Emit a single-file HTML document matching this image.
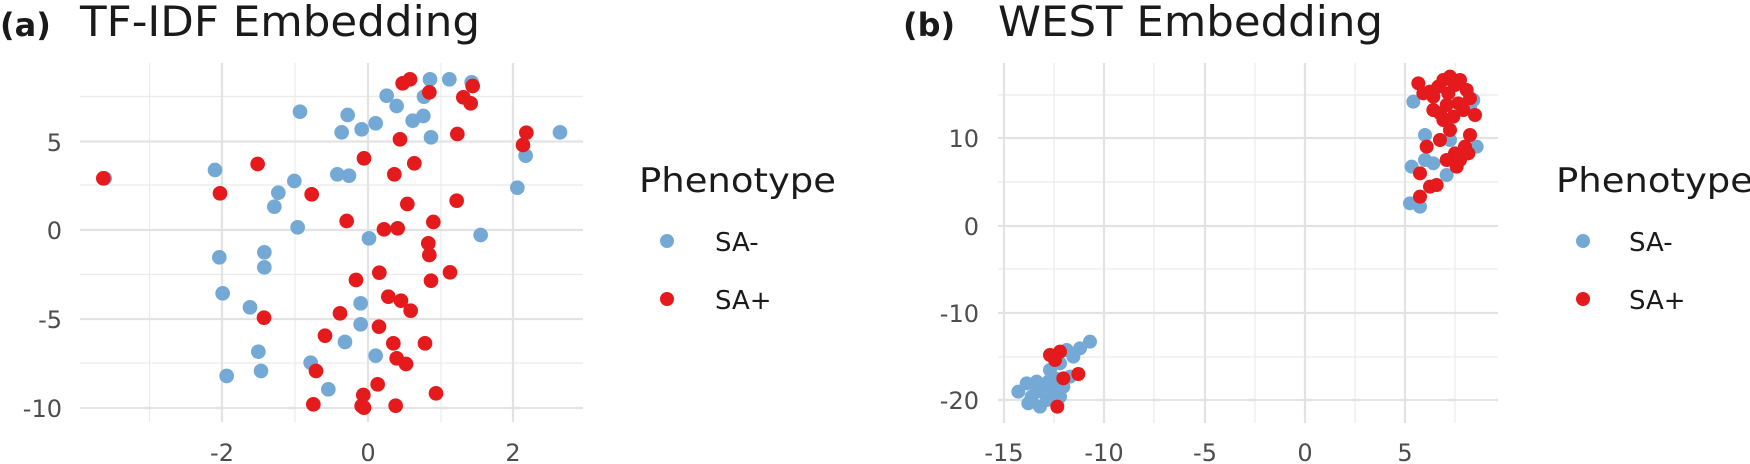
<!DOCTYPE html>
<html><head><meta charset="utf-8"><style>
html,body{margin:0;padding:0;background:#fff;}
svg{display:block;font-family:"DejaVu Sans","Liberation Sans",sans-serif;}
.tk{fill:#4d4d4d;font-size:24px;}
.b circle{fill:#74a9d6;}
.r circle{fill:#e41a1c;}
</style></head><body>
<svg width="1750" height="464" viewBox="0 0 1750 464" xmlns="http://www.w3.org/2000/svg">
<rect width="1750" height="464" fill="#fff"/>
<text x="0" y="36" font-size="32" font-weight="bold" fill="#1a1a1a">(a)</text>
<text x="80" y="36" font-size="42" fill="#1a1a1a" textLength="400" lengthAdjust="spacingAndGlyphs">TF-IDF Embedding</text>
<text x="903" y="36" font-size="32" font-weight="bold" fill="#1a1a1a">(b)</text>
<text x="998" y="36" font-size="42" fill="#1a1a1a" textLength="385" lengthAdjust="spacingAndGlyphs">WEST Embedding</text>

<g stroke="#ebebeb" stroke-width="1.2">
<line x1="80" x2="583" y1="96.5" y2="96.5"/><line x1="80" x2="583" y1="185" y2="185"/><line x1="80" x2="583" y1="274.5" y2="274.5"/><line x1="80" x2="583" y1="363" y2="363"/>
<line x1="149.5" x2="149.5" y1="63" y2="422"/><line x1="295" x2="295" y1="63" y2="422"/><line x1="441" x2="441" y1="63" y2="422"/>
</g>
<g stroke="#e3e3e3" stroke-width="2.2">
<line x1="80" x2="583" y1="141.5" y2="141.5"/><line x1="80" x2="583" y1="230" y2="230"/><line x1="80" x2="583" y1="319" y2="319"/><line x1="80" x2="583" y1="408" y2="408"/>
<line x1="222" x2="222" y1="63" y2="422"/><line x1="368" x2="368" y1="63" y2="422"/><line x1="513" x2="513" y1="63" y2="422"/>
</g>
<g class="tk" text-anchor="end">
<text x="62" y="151">5</text><text x="62" y="239">0</text><text x="62" y="328">-5</text><text x="62" y="417">-10</text>
</g>
<g class="tk" text-anchor="middle">
<text x="222" y="461">-2</text><text x="368" y="461">0</text><text x="513" y="461">2</text>
</g>
<g transform="translate(0,50) scale(0.33333)">
<g class="b">
<circle cx="314" cy="385" r="22"/><circle cx="645" cy="360" r="22"/><circle cx="658" cy="622" r="22"/><circle cx="668" cy="730" r="22"/><circle cx="680" cy="978" r="22"/><circle cx="750" cy="772" r="22"/><circle cx="775" cy="905" r="22"/><circle cx="783" cy="963" r="22"/><circle cx="793" cy="607" r="22"/><circle cx="793" cy="652" r="22"/><circle cx="823" cy="470" r="22"/><circle cx="835" cy="428" r="22"/><circle cx="883" cy="393" r="22"/><circle cx="893" cy="532" r="22"/><circle cx="900" cy="185" r="22"/><circle cx="932" cy="938" r="22"/><circle cx="985" cy="1018" r="22"/><circle cx="1012" cy="373" r="22"/><circle cx="1047" cy="377" r="22"/><circle cx="1025" cy="247" r="22"/><circle cx="1043" cy="195" r="22"/><circle cx="1035" cy="876" r="22"/><circle cx="1082" cy="760" r="22"/><circle cx="1082" cy="823" r="22"/><circle cx="1085" cy="238" r="22"/><circle cx="1107" cy="565" r="22"/><circle cx="1127" cy="220" r="22"/><circle cx="1127" cy="917" r="22"/><circle cx="1160" cy="137" r="22"/><circle cx="1190" cy="168" r="22"/><circle cx="1238" cy="212" r="22"/><circle cx="1270" cy="198" r="22"/><circle cx="1272" cy="140" r="22"/><circle cx="1290" cy="88" r="22"/><circle cx="1293" cy="262" r="22"/><circle cx="1348" cy="88" r="22"/><circle cx="1415" cy="97" r="22"/><circle cx="1442" cy="555" r="22"/><circle cx="1552" cy="413" r="22"/><circle cx="1577" cy="317" r="22"/><circle cx="1680" cy="247" r="22"/>
</g>
<g class="r">
<circle cx="310" cy="385" r="22"/><circle cx="660" cy="430" r="22"/><circle cx="773" cy="342" r="22"/><circle cx="792" cy="803" r="22"/><circle cx="935" cy="433" r="22"/><circle cx="948" cy="963" r="22"/><circle cx="940" cy="1063" r="22"/><circle cx="975" cy="857" r="22"/><circle cx="1020" cy="790" r="22"/><circle cx="1040" cy="513" r="22"/><circle cx="1068" cy="690" r="22"/><circle cx="1092" cy="325" r="22"/><circle cx="1085" cy="1068" r="22"/><circle cx="1092" cy="1073" r="22"/><circle cx="1090" cy="1035" r="22"/><circle cx="1133" cy="1003" r="22"/><circle cx="1137" cy="830" r="22"/><circle cx="1138" cy="668" r="22"/><circle cx="1152" cy="538" r="22"/><circle cx="1165" cy="740" r="22"/><circle cx="1180" cy="880" r="22"/><circle cx="1187" cy="1067" r="22"/><circle cx="1183" cy="373" r="22"/><circle cx="1190" cy="925" r="22"/><circle cx="1218" cy="942" r="22"/><circle cx="1193" cy="535" r="22"/><circle cx="1200" cy="268" r="22"/><circle cx="1203" cy="752" r="22"/><circle cx="1208" cy="100" r="22"/><circle cx="1230" cy="88" r="22"/><circle cx="1222" cy="462" r="22"/><circle cx="1232" cy="782" r="22"/><circle cx="1243" cy="340" r="22"/><circle cx="1275" cy="880" r="22"/><circle cx="1285" cy="580" r="22"/><circle cx="1288" cy="615" r="22"/><circle cx="1288" cy="127" r="22"/><circle cx="1293" cy="692" r="22"/><circle cx="1300" cy="516" r="22"/><circle cx="1308" cy="1030" r="22"/><circle cx="1350" cy="667" r="22"/><circle cx="1370" cy="452" r="22"/><circle cx="1372" cy="252" r="22"/><circle cx="1390" cy="142" r="22"/><circle cx="1412" cy="160" r="22"/><circle cx="1418" cy="108" r="22"/><circle cx="1579" cy="248" r="22"/><circle cx="1569" cy="285" r="22"/>
</g>
</g>
<text x="639" y="192" font-size="34" fill="#1a1a1a" textLength="197" lengthAdjust="spacingAndGlyphs">Phenotype</text>
<circle cx="667" cy="241" r="7" fill="#74a9d6"/><circle cx="667" cy="299" r="7" fill="#e41a1c"/>
<text x="715" y="251" font-size="26" fill="#1a1a1a">SA-</text>
<text x="715" y="309" font-size="26" fill="#1a1a1a">SA+</text>

<g stroke="#ebebeb" stroke-width="1.2">
<line x1="998" x2="1498" y1="95" y2="95"/><line x1="998" x2="1498" y1="182" y2="182"/><line x1="998" x2="1498" y1="269" y2="269"/><line x1="998" x2="1498" y1="357" y2="357"/>
<line x1="1054" x2="1054" y1="63" y2="423"/><line x1="1154" x2="1154" y1="63" y2="423"/><line x1="1255" x2="1255" y1="63" y2="423"/><line x1="1355" x2="1355" y1="63" y2="423"/><line x1="1455" x2="1455" y1="63" y2="423"/>
</g>
<g stroke="#e3e3e3" stroke-width="2.2">
<line x1="998" x2="1498" y1="138" y2="138"/><line x1="998" x2="1498" y1="226" y2="226"/><line x1="998" x2="1498" y1="313" y2="313"/><line x1="998" x2="1498" y1="400" y2="400"/>
<line x1="1004" x2="1004" y1="63" y2="423"/><line x1="1104" x2="1104" y1="63" y2="423"/><line x1="1205" x2="1205" y1="63" y2="423"/><line x1="1305" x2="1305" y1="63" y2="423"/><line x1="1405" x2="1405" y1="63" y2="423"/>
</g>
<g class="tk" text-anchor="end">
<text x="979" y="147">10</text><text x="979" y="235">0</text><text x="979" y="322">-10</text><text x="979" y="409">-20</text>
</g>
<g class="tk" text-anchor="middle">
<text x="1004" y="461">-15</text><text x="1104" y="461">-10</text><text x="1205" y="461">-5</text><text x="1305" y="461">0</text><text x="1405" y="461">5</text>
</g>
<g transform="translate(960,320) scale(0.33333)">
<g class="b">
<circle cx="175" cy="215" r="21"/><circle cx="200" cy="190" r="21"/><circle cx="230" cy="185" r="21"/><circle cx="215" cy="230" r="21"/><circle cx="240" cy="260" r="21"/><circle cx="260" cy="240" r="21"/><circle cx="280" cy="210" r="21"/><circle cx="300" cy="230" r="21"/><circle cx="270" cy="150" r="21"/><circle cx="300" cy="130" r="21"/><circle cx="320" cy="90" r="21"/><circle cx="340" cy="110" r="21"/><circle cx="360" cy="85" r="21"/><circle cx="390" cy="65" r="21"/><circle cx="330" cy="170" r="21"/><circle cx="250" cy="200" r="21"/><circle cx="205" cy="250" r="21"/><circle cx="290" cy="250" r="21"/><circle cx="310" cy="200" r="21"/><circle cx="230" cy="215" r="21"/><circle cx="265" cy="185" r="21"/><circle cx="285" cy="175" r="21"/>
</g>
<g class="r">
<circle cx="270" cy="105" r="21"/><circle cx="300" cy="95" r="21"/><circle cx="285" cy="120" r="21"/><circle cx="310" cy="175" r="21"/><circle cx="355" cy="162" r="21"/><circle cx="292" cy="260" r="21"/>
</g>
</g>
<g transform="translate(1400,60) scale(0.33333)">
<g class="b">
<circle cx="40" cy="125" r="21"/><circle cx="75" cy="225" r="21"/><circle cx="35" cy="320" r="21"/><circle cx="75" cy="300" r="21"/><circle cx="100" cy="310" r="21"/><circle cx="140" cy="345" r="21"/><circle cx="30" cy="430" r="21"/><circle cx="60" cy="440" r="21"/><circle cx="210" cy="140" r="21"/><circle cx="230" cy="260" r="21"/><circle cx="220" cy="120" r="21"/><circle cx="150" cy="240" r="21"/>
</g>
<g class="r">
<circle cx="55" cy="70" r="21"/><circle cx="90" cy="95" r="21"/><circle cx="130" cy="60" r="21"/><circle cx="150" cy="50" r="21"/><circle cx="165" cy="75" r="21"/><circle cx="200" cy="90" r="21"/><circle cx="210" cy="115" r="21"/><circle cx="225" cy="165" r="21"/><circle cx="175" cy="130" r="21"/><circle cx="140" cy="135" r="21"/><circle cx="100" cy="150" r="21"/><circle cx="130" cy="180" r="21"/><circle cx="160" cy="170" r="21"/><circle cx="150" cy="210" r="21"/><circle cx="120" cy="240" r="21"/><circle cx="80" cy="260" r="21"/><circle cx="210" cy="225" r="21"/><circle cx="195" cy="260" r="21"/><circle cx="165" cy="280" r="21"/><circle cx="170" cy="320" r="21"/><circle cx="140" cy="300" r="21"/><circle cx="180" cy="300" r="21"/><circle cx="60" cy="340" r="21"/><circle cx="90" cy="380" r="21"/><circle cx="60" cy="410" r="21"/><circle cx="110" cy="375" r="21"/><circle cx="120" cy="160" r="21"/><circle cx="190" cy="150" r="21"/><circle cx="100" cy="110" r="21"/><circle cx="70" cy="100" r="21"/><circle cx="145" cy="100" r="21"/><circle cx="205" cy="280" r="21"/><circle cx="115" cy="80" r="21"/><circle cx="180" cy="60" r="21"/>
</g>
</g>
<text x="1556" y="192" font-size="34" fill="#1a1a1a" textLength="197" lengthAdjust="spacingAndGlyphs">Phenotype</text>
<circle cx="1583" cy="241" r="7" fill="#74a9d6"/><circle cx="1583" cy="299" r="7" fill="#e41a1c"/>
<text x="1629" y="251" font-size="26" fill="#1a1a1a">SA-</text>
<text x="1629" y="309" font-size="26" fill="#1a1a1a">SA+</text>
</svg>
</body></html>
